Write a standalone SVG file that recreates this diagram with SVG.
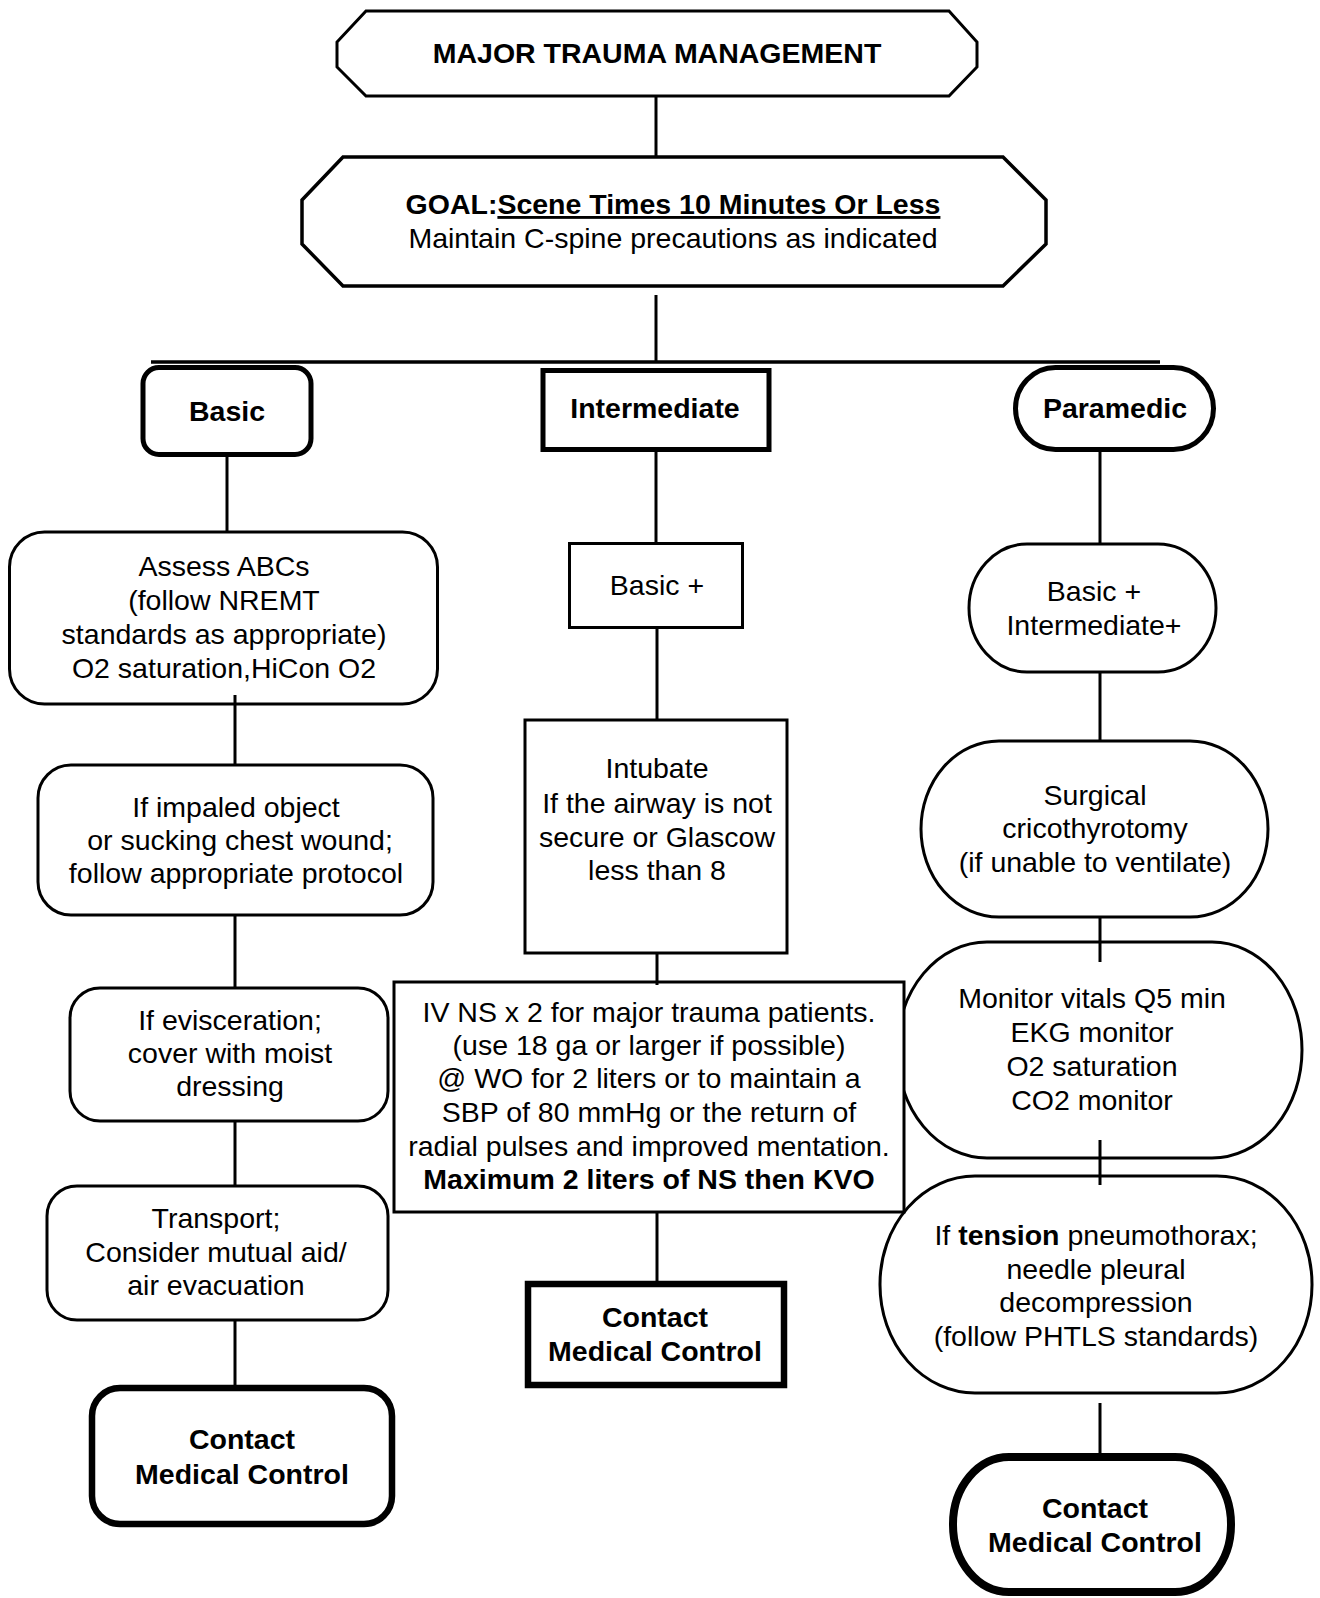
<svg xmlns="http://www.w3.org/2000/svg" width="1320" height="1598" viewBox="0 0 1320 1598">
  <style>
    text { font-family: "Liberation Sans", Arial, sans-serif; font-size: 28.5px; fill: #000; text-anchor: middle; }
    .b { font-weight: bold; }
    .box { fill: #fff; stroke: #000; stroke-width: 3; }
    .goalbox { fill: #fff; stroke: #000; stroke-width: 3.5; }
    .thick { fill: #fff; stroke: #000; stroke-width: 5; }
    .heavy { fill: #fff; stroke: #000; stroke-width: 6.5; }
    .heaviest { fill: #fff; stroke: #000; stroke-width: 8; }
    .link { fill: none; stroke: #000; stroke-width: 3; }
    .bar { stroke-width: 3.5; }
  </style>
  <rect width="1320" height="1598" fill="#fff"/>

  <!-- header -->
  <g id="title">
    <polygon class="box" points="366,11 949,11 977,42 977,67 949,96 366,96 337,67 337,42"/>
    <text class="b" x="657" y="63">MAJOR TRAUMA MANAGEMENT</text>
  </g>
  <g id="goal">
    <polygon class="goalbox" points="343,157 1003,157 1046,200 1046,244 1003,286 343,286 302,244 302,200"/>
    <text class="b" x="673" y="214">GOAL:<tspan text-decoration="underline">Scene Times 10 Minutes Or Less</tspan></text>
    <text x="673" y="248">Maintain C-spine precautions as indicated</text>
  </g>

  <!-- level headers -->
  <g id="basic">
    <rect class="thick" x="143" y="367.5" width="168" height="87" rx="16"/>
    <text class="b" x="227" y="421">Basic</text>
  </g>
  <g id="intermediate">
    <rect class="thick" x="543" y="370.5" width="226" height="79"/>
    <text class="b" x="655" y="418">Intermediate</text>
  </g>
  <g id="paramedic">
    <rect class="thick" x="1015.5" y="367.5" width="198" height="82" rx="40" ry="41"/>
    <text class="b" x="1115" y="418">Paramedic</text>
  </g>

  <!-- basic column -->
  <g id="assess">
    <rect class="box" x="9.5" y="532" width="428" height="172" rx="35"/>
    <text x="224" y="576">Assess ABCs</text>
    <text x="224" y="610">(follow NREMT</text>
    <text x="224" y="644">standards as appropriate)</text>
    <text x="224" y="678">O2 saturation,HiCon O2</text>
  </g>
  <g id="impaled">
    <rect class="box" x="38" y="765" width="395" height="150" rx="33"/>
    <text x="236" y="817">If impaled object</text>
    <text x="240" y="850">or sucking chest wound;</text>
    <text x="236" y="883">follow appropriate protocol</text>
  </g>
  <g id="evisceration">
    <rect class="box" x="70" y="988" width="318" height="133" rx="30"/>
    <text x="230" y="1030">If evisceration;</text>
    <text x="230" y="1063">cover with moist</text>
    <text x="230" y="1096">dressing</text>
  </g>
  <g id="transport">
    <rect class="box" x="47" y="1186" width="341" height="134" rx="30"/>
    <text x="216" y="1228">Transport;</text>
    <text x="216" y="1262">Consider mutual aid/</text>
    <text x="216" y="1295">air evacuation</text>
  </g>
  <g id="contact-basic">
    <rect class="heavy" x="92" y="1388" width="300" height="136" rx="28"/>
    <text class="b" x="242" y="1449">Contact</text>
    <text class="b" x="242" y="1484">Medical Control</text>
  </g>

  <!-- paramedic column (monitor sits behind the IV box) -->
  <g id="para-basic">
    <rect class="box" x="969" y="544" width="247" height="128" rx="58" ry="64"/>
    <text x="1094" y="601">Basic +</text>
    <text x="1094" y="635">Intermediate+</text>
  </g>
  <g id="surgical">
    <rect class="box" x="921" y="741" width="347" height="176" rx="78" ry="88"/>
    <text x="1095" y="805">Surgical</text>
    <text x="1095" y="838">cricothyrotomy</text>
    <text x="1095" y="872">(if unable to ventilate)</text>
  </g>
  <g id="monitor">
    <rect class="box" x="897" y="942" width="405" height="216" rx="90" ry="108"/>
    <text x="1092" y="1008">Monitor vitals Q5 min</text>
    <text x="1092" y="1042">EKG monitor</text>
    <text x="1092" y="1076">O2 saturation</text>
    <text x="1092" y="1110">CO2 monitor</text>
  </g>
  <g id="tension">
    <rect class="box" x="880" y="1176" width="432" height="217" rx="95" ry="108"/>
    <text x="1096" y="1245">If <tspan class="b">tension</tspan> pneumothorax;</text>
    <text x="1096" y="1279">needle pleural</text>
    <text x="1096" y="1312">decompression</text>
    <text x="1096" y="1346">(follow PHTLS standards)</text>
  </g>
  <g id="contact-paramedic">
    <rect class="heaviest" x="953" y="1457" width="278" height="135" rx="56" ry="67"/>
    <text class="b" x="1095" y="1518">Contact</text>
    <text class="b" x="1095" y="1552">Medical Control</text>
  </g>

  <!-- intermediate column -->
  <g id="inter-basic">
    <rect class="box" x="569.5" y="543.5" width="173" height="84"/>
    <text x="657" y="595">Basic +</text>
  </g>
  <g id="intubate">
    <rect class="box" x="525" y="720" width="262" height="233"/>
    <text x="657" y="778">Intubate</text>
    <text x="657" y="813">If the airway is not</text>
    <text x="657" y="847">secure or Glascow</text>
    <text x="657" y="880">less than 8</text>
  </g>
  <g id="iv">
    <rect class="box" x="394" y="982" width="510" height="230"/>
    <text x="649" y="1022">IV NS x 2 for major trauma patients.</text>
    <text x="649" y="1055">(use 18 ga or larger if possible)</text>
    <text x="649" y="1088">@ WO for 2 liters or to maintain a</text>
    <text x="649" y="1122">SBP of 80 mmHg or the return of</text>
    <text x="649" y="1156">radial pulses and improved mentation.</text>
    <text class="b" x="649" y="1189">Maximum 2 liters of NS then KVO</text>
  </g>
  <g id="contact-intermediate">
    <rect class="heavy" x="528" y="1284" width="256" height="101"/>
    <text class="b" x="655" y="1327">Contact</text>
    <text class="b" x="655" y="1361">Medical Control</text>
  </g>

  <!-- connectors -->
  <g id="connectors" class="link">
    <line x1="656" y1="96" x2="656" y2="157"/>
    <line x1="656" y1="295" x2="656" y2="362"/>
    <line class="bar" x1="151" y1="362" x2="1160" y2="362"/>
    <line x1="227" y1="454" x2="227" y2="531"/>
    <line x1="656" y1="450" x2="656" y2="543"/>
    <line x1="1100" y1="451" x2="1100" y2="543"/>
    <line x1="235" y1="695" x2="235" y2="765"/>
    <line x1="235" y1="915" x2="235" y2="988"/>
    <line x1="235" y1="1121" x2="235" y2="1186"/>
    <line x1="235" y1="1320" x2="235" y2="1386"/>
    <line x1="657" y1="628" x2="657" y2="720"/>
    <line x1="657" y1="953" x2="657" y2="985"/>
    <line x1="657" y1="1212" x2="657" y2="1281"/>
    <line x1="1100" y1="672" x2="1100" y2="741"/>
    <line x1="1100" y1="917" x2="1100" y2="962"/>
    <line x1="1100" y1="1140" x2="1100" y2="1185"/>
    <line x1="1100" y1="1403" x2="1100" y2="1454"/>
  </g>
</svg>
